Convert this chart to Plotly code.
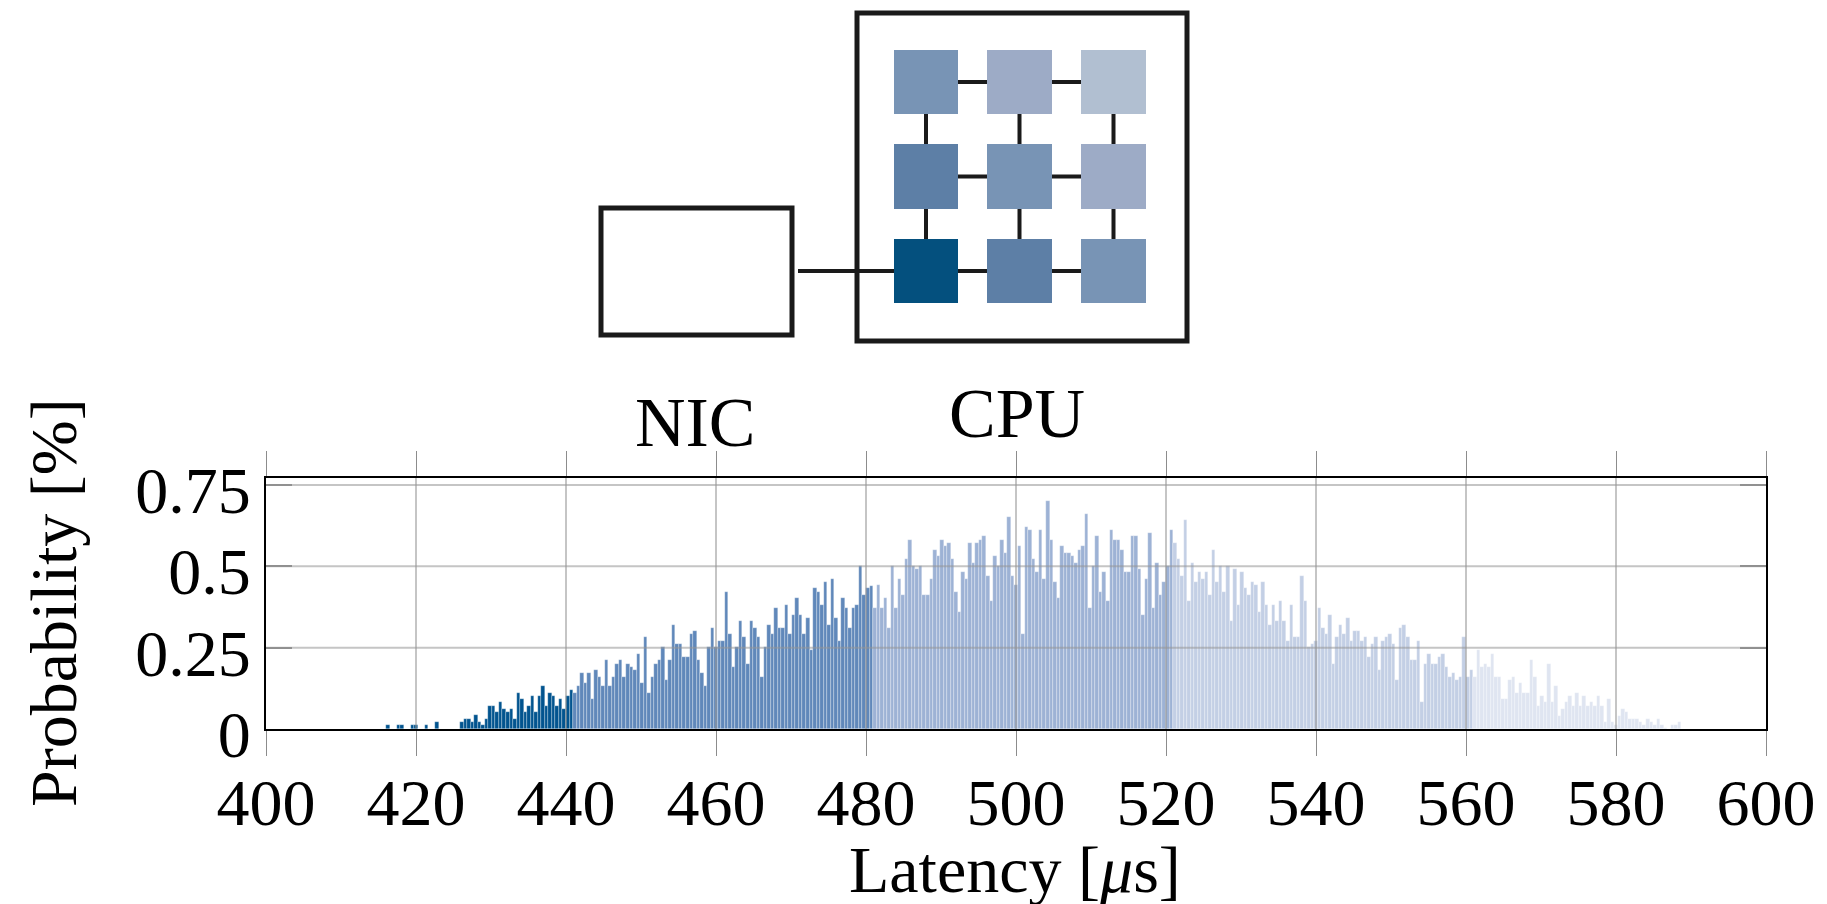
import plotly.graph_objects as go

# ---------------- data ----------------
# histogram bins: 425 equal bins between 400 and 600 us; first non-empty bin index below
bin_origin = 400.0
bin_width = 200.0 / 425
first_bin = 34

# probability [%] per bin, grouped by core distance from the NIC (colour groups)
prob_hop0 = [0.011, 0, 0, 0.011, 0.011, 0, 0, 0.011, 0.011, 0, 0, 0.011, 0, 0, 0.021,
             0, 0, 0, 0, 0, 0,
             0.021, 0.032, 0.032, 0.021, 0.042, 0.021, 0.011, 0.032, 0.072, 0.072,
             0.052, 0.082, 0.061, 0.052, 0.061, 0.032, 0.111, 0.091, 0.052, 0.072,
             0.102, 0.052, 0.102, 0.132, 0.072, 0.111, 0.102, 0.072, 0.091, 0.061,
             0.102, 0.121]
prob_hop1 = [0.111, 0.132, 0.171, 0.142, 0.171, 0.092, 0.182, 0.161, 0.132, 0.211,
             0.132, 0.161, 0.201, 0.211, 0.161, 0.201, 0.191, 0.182, 0.232, 0.142,
             0.282, 0.111, 0.161, 0.201, 0.211, 0.251, 0.151, 0.211, 0.321, 0.261,
             0.261, 0.221, 0.221, 0.292, 0.301, 0.211, 0.171, 0.132, 0.251, 0.311,
             0.251, 0.271, 0.271, 0.421, 0.292, 0.191, 0.251, 0.332, 0.282, 0.201,
             0.332, 0.311, 0.282, 0.161, 0.251, 0.321, 0.292, 0.371, 0.311, 0.311,
             0.382, 0.292, 0.351, 0.402, 0.351, 0.292, 0.342, 0.242, 0.432, 0.421,
             0.382, 0.452, 0.321, 0.461, 0.342, 0.271, 0.402, 0.371, 0.311, 0.371,
             0.382, 0.501, 0.411, 0.432, 0.44]
prob_hop2 = [0.371, 0.442,
             0.371, 0.402, 0.311, 0.501, 0.371, 0.461, 0.411, 0.521, 0.582, 0.501,
             0.492, 0.501, 0.411, 0.411, 0.461, 0.551, 0.532, 0.582, 0.561, 0.571,
             0.521, 0.421, 0.361, 0.482, 0.461, 0.571, 0.511, 0.571, 0.582, 0.592,
             0.471, 0.392, 0.532, 0.501, 0.582, 0.542, 0.652, 0.471, 0.442, 0.561,
             0.292, 0.621, 0.612, 0.521, 0.482, 0.612, 0.461, 0.702, 0.582, 0.451,
             0.402, 0.561, 0.542, 0.542, 0.532, 0.511, 0.551, 0.561, 0.662, 0.371,
             0.501, 0.592, 0.421, 0.482, 0.392, 0.612, 0.582, 0.582, 0.551, 0.482,
             0.482, 0.592, 0.592, 0.492, 0.351, 0.461, 0.602, 0.371, 0.511, 0.411,
             0.451, 0.501, 0.612]
prob_hop3 = [0.571, 0.521, 0.471, 0.642, 0.392, 0.511, 0.451, 0.482, 0.461, 0.482,
             0.411, 0.551, 0.451, 0.501, 0.421, 0.501, 0.332, 0.492, 0.382, 0.482,
             0.432, 0.411, 0.451, 0.442, 0.361, 0.451, 0.382, 0.321, 0.382, 0.332,
             0.392, 0.332, 0.271, 0.382, 0.282, 0.282, 0.471, 0.392, 0.251, 0.261,
             0.271, 0.371, 0.311, 0.292, 0.351, 0.201, 0.282, 0.321, 0.292, 0.342,
             0.271, 0.301, 0.301, 0.271, 0.282, 0.221, 0.261, 0.282, 0.182, 0.271,
             0.282, 0.292, 0.261, 0.151, 0.311, 0.321, 0.282, 0.211, 0.211, 0.271,
             0.082, 0.201, 0.232, 0.201, 0.201, 0.221, 0.232, 0.191, 0.161, 0.171,
             0.151, 0.161, 0.282, 0.161, 0.182]
prob_hop4 = [0.161, 0.242, 0.191, 0.201, 0.191, 0.232, 0.161, 0.161, 0.092, 0.092,
             0.151, 0.161, 0.111, 0.141, 0.111, 0.111, 0.211, 0.161, 0.071, 0.101,
             0.082, 0.201, 0.082, 0.132, 0.041, 0.061, 0.082, 0.101, 0.071, 0.111,
             0.071, 0.101, 0.071, 0.082, 0.071, 0.101, 0.071, 0.021, 0.092, 0.021,
             0.011, 0.041, 0.061, 0.051, 0.032, 0.032, 0.032, 0.021, 0.011, 0.032,
             0.021, 0.011, 0.032, 0.011, 0.002, 0.0, 0.011, 0.011, 0.021]

x_ticks = [400, 420, 440, 460, 480, 500, 520, 540, 560, 580, 600]
y_ticks = [0, 0.25, 0.5, 0.75]
y_tick_text = ["0", "0.25", "0.5", "0.75"]

# ---------------- styling ----------------
group_colors = ["#02548f", "#6088ba", "#9db2d5", "#c3cfe5", "#dfe5f1"]
FONT = "Liberation Serif"
OFF = 8                       # page body margin of the written html
W, H = 1827, 904
L, R, T, B = 266, 1766, 478, 729  # plot area in page pixels
y_top = 0.7713


def px_x(p):
    return (p - L) / (R - L)


def px_y(p):
    return (B - p) / (B - T)


fig = go.Figure()
start = first_bin
for vals, col in zip([prob_hop0, prob_hop1, prob_hop2, prob_hop3, prob_hop4], group_colors):
    xs = [bin_origin + (start + i + 0.5) * bin_width for i in range(len(vals))]
    fig.add_trace(go.Bar(x=xs, y=vals, width=bin_width, marker=dict(
        color=col, line=dict(color="rgba(255,255,255,0.55)", width=0.5)),
        showlegend=False, hoverinfo="x+y"))
    start += len(vals)

shapes = []
# grid lines (drawn above bars, semi-transparent)
for xv in x_ticks[1:-1]:
    shapes.append(dict(type="line", xref="x", yref="paper", x0=xv, x1=xv, y0=0, y1=1,
                       line=dict(color="rgba(150,150,150,0.55)", width=2), layer="above"))
for yv in y_ticks[1:]:
    shapes.append(dict(type="line", xref="paper", yref="y", x0=0, x1=1, y0=yv, y1=yv,
                       line=dict(color="rgba(150,150,150,0.55)", width=2), layer="above"))

# ---------------- NIC / CPU diagram (page pixels) ----------------
def rect(x0, y0, x1, y1, **kw):
    return dict(type="rect", xref="paper", yref="paper", x0=px_x(x0), x1=px_x(x1),
                y0=px_y(y1), y1=px_y(y0), **kw)


def seg(x0, y0, x1, y1, w=4):
    return dict(type="line", xref="paper", yref="paper", x0=px_x(x0), x1=px_x(x1),
                y0=px_y(y0), y1=px_y(y1), line=dict(color="#1a1a1a", width=w))


shapes.append(rect(601, 208, 792, 335, line=dict(color="#1a1a1a", width=5), fillcolor="white"))
shapes.append(rect(857, 13, 1187, 341, line=dict(color="#1a1a1a", width=5), fillcolor="white"))
shapes.append(seg(798, 271, 900, 271))
col_x = [(894, 958), (987, 1052), (1081, 1146)]
row_y = [(50, 114), (144, 209), (239, 303)]
cx = [(a + b) / 2 for a, b in col_x]
cy = [(a + b) / 2 for a, b in row_y]
for yy in cy:
    shapes.append(seg(cx[0], yy, cx[2], yy))
for xx in cx:
    shapes.append(seg(xx, cy[0], xx, cy[2]))
core_colors = [["#7894b5", "#9dabc6", "#b1bfd1"],
               ["#5d7fa6", "#7894b5", "#9dabc6"],
               ["#04507e", "#5d7fa6", "#7894b5"]]
for r, (y0, y1) in enumerate(row_y):
    for c, (x0, x1) in enumerate(col_x):
        shapes.append(rect(x0, y0, x1, y1, line=dict(width=0), fillcolor=core_colors[r][c]))

annotations = [
    dict(text="NIC", x=px_x(695), y=px_y(422), xref="paper", yref="paper", showarrow=False,
         xanchor="center", yanchor="middle", font=dict(family=FONT, size=70, color="black")),
    dict(text="CPU", x=px_x(1017), y=px_y(413), xref="paper", yref="paper", showarrow=False,
         xanchor="center", yanchor="middle", font=dict(family=FONT, size=70, color="black")),
    dict(text="Probability [%]", x=px_x(53), y=px_y(603), xref="paper", yref="paper",
         showarrow=False, textangle=-90, xanchor="center", yanchor="middle",
         font=dict(family=FONT, size=66, color="black")),
    dict(text="Latency [<i>μ</i>s]", x=px_x(1015), y=px_y(869), xref="paper", yref="paper",
         showarrow=False, xanchor="center", yanchor="middle",
         font=dict(family=FONT, size=66, color="black")),
]

fig.update_layout(
    width=W, height=H,
    margin=dict(l=L - OFF, r=W - (R - OFF), t=T - OFF, b=H - (B - OFF), pad=0),
    paper_bgcolor="white", plot_bgcolor="white",
    barmode="overlay", bargap=0,
    shapes=shapes, annotations=annotations,
    font=dict(family=FONT, color="black"),
    xaxis=dict(range=[400, 600], tickvals=x_ticks, showgrid=False, zeroline=False,
               ticks="outside", ticklen=25, tickwidth=1, tickcolor="#8c8c8c",
               showline=True, linecolor="black", linewidth=2, mirror="ticks",
               ticklabelstandoff=-10,
               tickfont=dict(family=FONT, size=66, color="black")),
    yaxis=dict(range=[0, y_top], tickvals=y_ticks, ticktext=y_tick_text, showgrid=False,
               zeroline=False, ticks="inside", ticklen=26, tickwidth=1.5, tickcolor="#8c8c8c",
               showline=True, linecolor="black", linewidth=2, mirror="ticks",
               ticklabelshift=5,
               tickfont=dict(family=FONT, size=66, color="black")),
)

fig.write_html("out.html", config={"displayModeBar": False})
